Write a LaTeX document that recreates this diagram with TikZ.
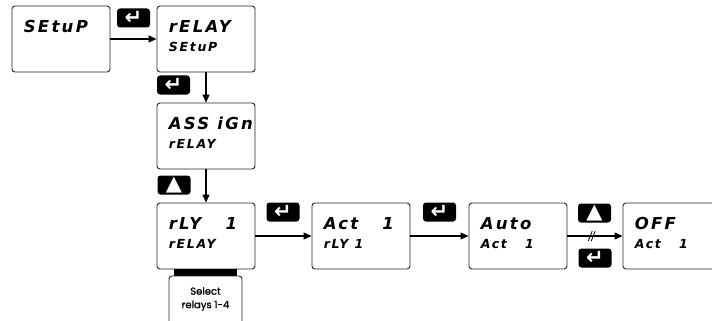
\documentclass[tikz,border=0pt]{standalone}
\usepackage{fontspec}
\usepackage{tikz}
\usetikzlibrary{arrows.meta}
\newfontfamily\segfont[LetterSpace=14]{DejaVu Sans}
\newfontfamily\keyfont{DejaVu Sans}
\newfontfamily\notefont[FakeBold=1.2]{Poppins}

\tikzset{
    display/.style={draw=black!85, line width=0.9pt, rounded corners=3pt,
        minimum width=98pt, minimum height=66pt, inner sep=0pt},
    topline/.style={anchor=base west, inner sep=0pt,
        font=\segfont\bfseries\itshape\fontsize{16.5}{16.5}\selectfont},
    subline/.style={anchor=base west, inner sep=0pt,
        font=\segfont\bfseries\itshape\fontsize{12.5}{12.5}\selectfont},
    key/.style={fill=black, rounded corners=3pt, minimum width=33pt,
        minimum height=19pt, inner sep=0pt, text=white,
        font=\keyfont\bfseries\fontsize{21}{21}\selectfont},
    arr/.style={-{Triangle[length=8pt,width=7pt]}, line width=1.2pt},
}

\begin{document}
\begin{tikzpicture}[x=1pt,y=-1pt]
    \useasboundingbox (0,0) rectangle (712,321);
    \clip (0,0) rectangle (712,321);
    % displays
    \foreach\n/\x/\y/\a/\b in{setup/61/39/SEtuP/{},
        rlysetup/206/39/rELAY/SEtuP,
        assign/206/136/{ASS iGn}/rELAY,
        rly/206/236/{rLY~~~1}/rELAY,
        act/361/236/{Act~~~1}/{rLY~1},
        auto/518/236/Auto/{Act~~~1},
        off/672/236/OFF/{Act~~~1}}{
        \node[display] at(\x,\y)(\n){};
        \node[topline] at([xshift=12pt,yshift=-27pt]\n.north west)(\n-top){\a};
        \node[subline] at([xshift=12pt,yshift=-46pt]\n.north west)(\n-sub){\b};
    }
    % keys
    \foreach\n/\x/\y/\s in{k1/133.5/18/↵, k2/173.5/85/↵, k3/174/185/▲,
        k4/283/212/↵, k5/439.5/212/↵, k6/594.5/213/▲, k7/595/258/↵}{
        \node[key] at(\x,\y)(\n){\s};
    }
    % note below rLY 1
    \node[fill=black, minimum width=63pt, minimum height=7pt, inner sep=0pt]
        at(205.5,272.5)(bar){};
    \node[draw=black!85, line width=0.9pt, rounded corners=3pt,
        minimum width=73pt, minimum height=60pt] at(205.5,306)(note){};
    \node[align=center, font=\notefont\fontsize{10}{13.5}\selectfont]
        at(205.5,299)(notetext){Select\\relays 1-4};
    % connectors
    \draw[arr](setup) -- (rlysetup);
    \draw[arr](rlysetup) -- (assign);
    \draw[arr](assign) -- (rly);
    \draw[arr](rly) -- (act);
    \draw[arr](act) -- (auto);
    \draw[arr](auto) -- coordinate[pos=0.45](brk) (off);
    \draw[line width=0.8pt]([xshift=-4pt,yshift=-5pt]brk) -- ([xshift=0pt,yshift=5pt]brk);
    \draw[line width=0.8pt]([xshift=-1pt,yshift=-5pt]brk) -- ([xshift=3pt,yshift=5pt]brk);
\end{tikzpicture}
\end{document}
